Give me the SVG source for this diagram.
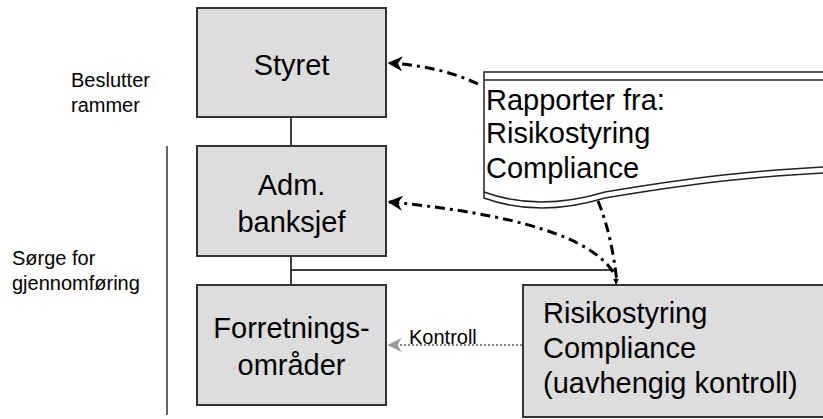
<svg xmlns="http://www.w3.org/2000/svg" width="823" height="419" viewBox="0 0 823 419">
<style>
.box{fill:#dddddd;stroke:#333333;stroke-width:2}
.big{font-family:"Liberation Sans",Arial,sans-serif;font-size:29px;fill:#000}
.small{font-family:"Liberation Sans",Arial,sans-serif;font-size:20px;fill:#000}
.line{fill:none;stroke:#000;stroke-width:1.5}
.dd{fill:none;stroke:#000;stroke-width:3;stroke-dasharray:10 5 3 5}
.dot{fill:none;stroke:#888888;stroke-width:2;stroke-dasharray:2 2}
</style>
<defs>
<marker id="ah" viewBox="0 0 10 10" refX="9" refY="5" markerWidth="5" markerHeight="5" orient="auto" markerUnits="strokeWidth">
<path d="M0,0 L10,5 L0,10 L3,5 Z" fill="#000"/>
</marker>
<marker id="ag" viewBox="0 0 10 10" refX="9" refY="5" markerWidth="7" markerHeight="7" orient="auto" markerUnits="strokeWidth">
<path d="M0,0 L10,5 L0,10 L3,5 Z" fill="#999999"/>
</marker>
<marker id="as" viewBox="0 0 10 10" refX="9" refY="5" markerWidth="4" markerHeight="4" orient="auto" markerUnits="strokeWidth">
<path d="M0,0 L10,5 L0,10 Z" fill="#000"/>
</marker>
</defs>

<g id="labels">
<text class="small" x="71" y="87">Beslutter</text>
<text class="small" x="71" y="112">rammer</text>
<text class="small" x="12" y="265">Sørge for</text>
<text class="small" x="12" y="290">gjennomføring</text>
<line x1="167" y1="146" x2="167" y2="415" stroke="#333" stroke-width="1.5"/>
</g>

<g id="connectors">
<line class="line" x1="291" y1="117" x2="291" y2="146"/>
<line class="line" x1="291" y1="256" x2="291" y2="285"/>
<path class="line" d="M291,270 H616 V284" marker-end="url(#as)"/>
<path class="dd" d="M478,84 Q440,66 389,63" marker-end="url(#ah)"/>
<path class="dd" d="M613,272 Q580,220 389,202" marker-end="url(#ah)"/>
<path class="dd" d="M598,201 Q612,235 617,283"/>
<line class="dot" x1="522" y1="345" x2="389" y2="345" marker-end="url(#ag)"/>
<text class="small" x="409" y="344">Kontroll</text>
</g>

<g id="styret">
<rect class="box" x="197" y="8" width="189" height="109"/>
<text class="big" x="291.5" y="75" text-anchor="middle">Styret</text>
</g>

<g id="adm">
<rect class="box" x="197" y="146" width="189" height="110"/>
<text class="big" x="291.5" y="195" text-anchor="middle">Adm.</text>
<text class="big" x="291.5" y="232" text-anchor="middle">banksjef</text>
</g>

<g id="forretning">
<rect class="box" x="197" y="285" width="189" height="120"/>
<text class="big" x="291.5" y="338" text-anchor="middle">Forretnings-</text>
<text class="big" x="291.5" y="375" text-anchor="middle">områder</text>
</g>

<g id="risiko">
<rect class="box" x="523" y="285" width="310" height="132"/>
<text class="big" x="543" y="323">Risikostyring</text>
<text class="big" x="543" y="358">Compliance</text>
<text class="big" x="543" y="393">(uavhengig kontroll)</text>
</g>

<g id="rapporter">
<path d="M484,72 H840 V172 C760,176 700,182 605,198 C565,210 525,213 484,198 Z" fill="#fff" stroke="#222" stroke-width="1.5"/>
<line x1="484" y1="80" x2="840" y2="80" stroke="#222" stroke-width="1.5"/>
<path d="M484,192 C525,207 565,204 605,192 C700,176 760,170 840,166" fill="none" stroke="#222" stroke-width="1.5"/>
<text class="big" x="486" y="110">Rapporter fra:</text>
<text class="big" x="486" y="143">Risikostyring</text>
<text class="big" x="486" y="178">Compliance</text>
</g>
</svg>
